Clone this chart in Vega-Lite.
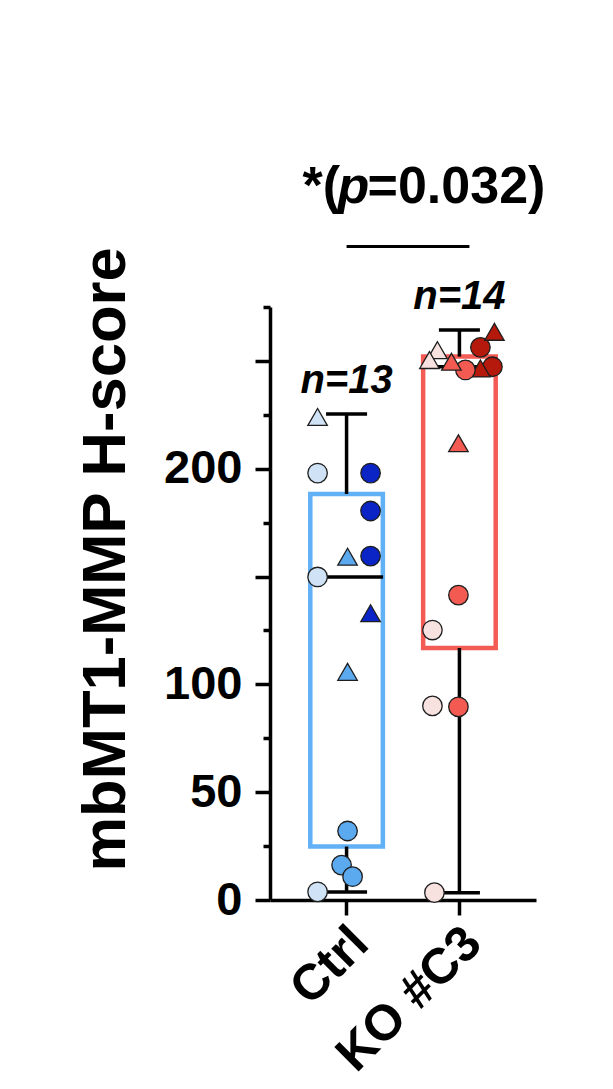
{
  "$schema": "https://vega.github.io/schema/vega-lite/v6.json",
  "width": 266,
  "height": 593,
  "autosize": "none",
  "padding": {"left": 270, "top": 307, "right": 77, "bottom": 189},
  "background": "white",
  "config": {
    "view": {"stroke": null},
    "font": "Liberation Sans",
    "axis": {"labelFont": "Liberation Sans", "titleFont": "Liberation Sans"}
  },
  "datasets": {
    "points": [
      {"group": "Ctrl", "tone": "Ctrl light", "shape": "triangle", "value": 224, "jitter": -29},
      {"group": "Ctrl", "tone": "Ctrl light", "shape": "circle", "value": 198, "jitter": -29},
      {"group": "Ctrl", "tone": "Ctrl dark", "shape": "circle", "value": 198, "jitter": 24},
      {"group": "Ctrl", "tone": "Ctrl dark", "shape": "circle", "value": 180.4, "jitter": 24},
      {"group": "Ctrl", "tone": "Ctrl mid", "shape": "triangle", "value": 159.2, "jitter": 1},
      {"group": "Ctrl", "tone": "Ctrl dark", "shape": "circle", "value": 159.5, "jitter": 24},
      {"group": "Ctrl", "tone": "Ctrl light", "shape": "circle", "value": 149.8, "jitter": -29},
      {"group": "Ctrl", "tone": "Ctrl dark", "shape": "triangle", "value": 133, "jitter": 24},
      {"group": "Ctrl", "tone": "Ctrl mid", "shape": "triangle", "value": 105.8, "jitter": 1},
      {"group": "Ctrl", "tone": "Ctrl mid", "shape": "circle", "value": 32, "jitter": 1},
      {"group": "Ctrl", "tone": "Ctrl mid", "shape": "circle", "value": 16.2, "jitter": -5},
      {"group": "Ctrl", "tone": "Ctrl mid", "shape": "circle", "value": 10.8, "jitter": 6},
      {"group": "Ctrl", "tone": "Ctrl light", "shape": "circle", "value": 3.8, "jitter": -29},
      {"group": "KO #C3", "tone": "KO light", "shape": "circle", "value": 125.2, "jitter": -27},
      {"group": "KO #C3", "tone": "KO light", "shape": "circle", "value": 90, "jitter": -27},
      {"group": "KO #C3", "tone": "KO light", "shape": "circle", "value": 3.4, "jitter": -25},
      {"group": "KO #C3", "tone": "KO mid", "shape": "triangle", "value": 211.8, "jitter": -1},
      {"group": "KO #C3", "tone": "KO mid", "shape": "circle", "value": 141.4, "jitter": -1},
      {"group": "KO #C3", "tone": "KO mid", "shape": "circle", "value": 89.6, "jitter": -1},
      {"group": "KO #C3", "tone": "KO dark", "shape": "circle", "value": 256.3, "jitter": 21},
      {"group": "KO #C3", "tone": "KO dark", "shape": "circle", "value": 247.3, "jitter": 33},
      {"group": "KO #C3", "tone": "KO dark", "shape": "triangle", "value": 263.5, "jitter": 35},
      {"group": "KO #C3", "tone": "KO dark", "shape": "triangle", "value": 246.5, "jitter": 21},
      {"group": "KO #C3", "tone": "KO mid", "shape": "circle", "value": 245.8, "jitter": 6},
      {"group": "KO #C3", "tone": "KO light", "shape": "triangle", "value": 255, "jitter": -22},
      {"group": "KO #C3", "tone": "KO light", "shape": "triangle", "value": 250.4, "jitter": -30},
      {"group": "KO #C3", "tone": "KO mid", "shape": "triangle", "value": 249.6, "jitter": -8}
    ],
    "summary": [
      {"group": "Ctrl", "min": 3.7, "q1": 24.8, "median": 149.8, "q3": 188.3, "max": 225.4, "n": "n=13"},
      {"group": "KO #C3", "min": 3.4, "q1": 116.9, "median": 247.3, "q3": 252.0, "max": 264.3, "n": "n=14"}
    ],
    "significance": [
      {"from": "Ctrl", "to": "KO #C3", "bar": 303, "textY": 323.2, "star": "*(", "p": "p", "rest": "=0.032)"}
    ]
  },
  "resolve": {"scale": {"xOffset": "independent"}},
  "encoding": {
    "x": {
      "field": "group",
      "type": "nominal",
      "scale": {"type": "band", "domain": ["Ctrl", "KO #C3"], "paddingInner": 0.357, "paddingOuter": 0.357},
      "axis": {
        "title": null,
        "domainColor": "black",
        "domainWidth": 3.5,
        "tickColor": "black",
        "tickWidth": 3.5,
        "tickSize": 15,
        "labelAngle": -45,
        "labelAlign": "right",
        "labelBaseline": "middle",
        "labelFontSize": 50,
        "labelFontWeight": "bold",
        "labelColor": "black",
        "labelLimit": 0,
        "labelPadding": 20,
        "labelOffset": 14
      }
    }
  },
  "layer": [
    {
      "data": {"name": "summary"},
      "mark": {"type": "bar", "fill": "transparent", "strokeWidth": 4.5, "width": {"band": 1}},
      "encoding": {
        "y": {
          "field": "q1",
          "type": "quantitative",
          "scale": {"domain": [0, 275], "nice": false, "zero": true},
          "axis": {
            "values": [0, 25, 50, 75, 100, 125, 150, 175, 200, 225, 250, 275],
            "labelExpr": "(datum.value == 0 || datum.value == 50 || datum.value == 100 || datum.value == 200) ? datum.label : ''",
            "grid": false,
            "domainColor": "black",
            "domainWidth": 3.5,
            "tickColor": "black",
            "tickWidth": 3.5,
            "tickSize": {"condition": {"test": "datum.value % 50 === 0", "value": 15}, "value": 7},
            "labelFontSize": 47,
            "labelFontWeight": "bold",
            "labelColor": "black",
            "labelPadding": 13,
            "title": "mbMT1-MMP H-score",
            "titleFontSize": 61.5,
            "titleFontWeight": "bold",
            "titleColor": "black",
            "titleX": -146,
            "titleY": 252,
            "titleBaseline": "alphabetic",
            "titleAlign": "center",
            "titleAngle": -90
          }
        },
        "y2": {"field": "q3"},
        "stroke": {
          "field": "group",
          "type": "nominal",
          "scale": {"domain": ["Ctrl", "KO #C3"], "range": ["#62b0f5", "#f45b55"]},
          "legend": null
        }
      }
    },
    {
      "data": {"name": "summary"},
      "mark": {"type": "rule", "strokeWidth": 3.5, "color": "black"},
      "encoding": {
        "y": {"field": "max", "type": "quantitative"},
        "y2": {"field": "q3"}
      }
    },
    {
      "data": {"name": "summary"},
      "mark": {"type": "rule", "strokeWidth": 3.5, "color": "black"},
      "encoding": {
        "y": {"field": "q1", "type": "quantitative"},
        "y2": {"field": "min"}
      }
    },
    {
      "data": {"name": "summary"},
      "mark": {"type": "tick", "size": 41, "thickness": 3.5, "color": "black", "opacity": 1, "orient": "horizontal"},
      "encoding": {"y": {"field": "max", "type": "quantitative"}}
    },
    {
      "data": {"name": "summary"},
      "mark": {"type": "tick", "size": 41, "thickness": 3.5, "color": "black", "opacity": 1, "orient": "horizontal"},
      "encoding": {"y": {"field": "min", "type": "quantitative"}}
    },
    {
      "data": {"name": "summary"},
      "mark": {"type": "tick", "size": 73, "thickness": 3.5, "color": "black", "opacity": 1, "orient": "horizontal"},
      "encoding": {"y": {"field": "median", "type": "quantitative"}}
    },
    {
      "data": {"name": "points"},
      "mark": {"type": "point", "filled": true, "stroke": "#1e1e1e", "strokeWidth": 1.3, "opacity": 1, "size": 380},
      "encoding": {
        "y": {"field": "value", "type": "quantitative"},
        "xOffset": {"field": "jitter", "type": "quantitative", "scale": {"domain": [-36.3, 36.3]}},
        "fill": {
          "field": "tone",
          "type": "nominal",
          "scale": {
            "domain": ["Ctrl light", "Ctrl mid", "Ctrl dark", "KO light", "KO mid", "KO dark"],
            "range": ["#d0e3f6", "#5ba9ef", "#0b24c6", "#f7e2e0", "#f25a52", "#b4190b"]
          },
          "legend": null
        },
        "shape": {
          "field": "shape",
          "type": "nominal",
          "scale": {"domain": ["circle", "triangle"], "range": ["circle", "triangle-up"]},
          "legend": null
        }
      }
    },
    {
      "data": {"name": "summary"},
      "mark": {"type": "text", "fontSize": 40, "fontWeight": "bold", "fontStyle": "italic", "color": "black", "align": "center", "baseline": "alphabetic", "dy": -21},
      "encoding": {
        "y": {"field": "max", "type": "quantitative"},
        "text": {"field": "n"}
      }
    },
    {
      "data": {"name": "significance"},
      "mark": {"type": "rule", "strokeWidth": 3, "color": "black", "x2Offset": 10},
      "encoding": {
        "x": {"field": "from", "type": "nominal"},
        "x2": {"field": "to"},
        "y": {"field": "bar", "type": "quantitative"}
      }
    },
    {
      "data": {"name": "significance"},
      "mark": {"type": "text", "fontSize": 52, "fontWeight": "bold", "color": "black", "align": "left", "baseline": "alphabetic", "dx": -44},
      "encoding": {
        "x": {"field": "from", "type": "nominal"},
        "y": {"field": "textY", "type": "quantitative"},
        "text": {"field": "star"}
      }
    },
    {
      "data": {"name": "significance"},
      "mark": {"type": "text", "fontSize": 52, "fontWeight": "bold", "fontStyle": "italic", "color": "black", "align": "left", "baseline": "alphabetic", "dx": -9},
      "encoding": {
        "x": {"field": "from", "type": "nominal"},
        "y": {"field": "textY", "type": "quantitative"},
        "text": {"field": "p"}
      }
    },
    {
      "data": {"name": "significance"},
      "mark": {"type": "text", "fontSize": 52, "fontWeight": "bold", "color": "black", "align": "left", "baseline": "alphabetic", "dx": 21},
      "encoding": {
        "x": {"field": "from", "type": "nominal"},
        "y": {"field": "textY", "type": "quantitative"},
        "text": {"field": "rest"}
      }
    }
  ]
}
